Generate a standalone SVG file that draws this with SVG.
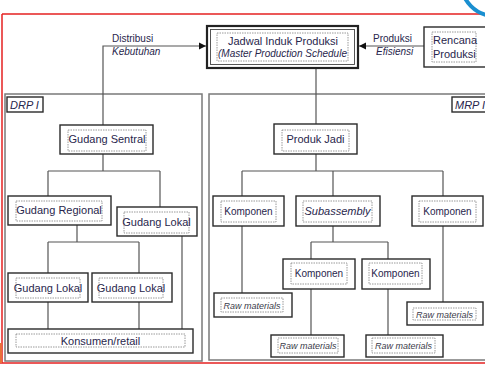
<svg xmlns="http://www.w3.org/2000/svg" width="485" height="365" viewBox="0 0 485 365">
<style>
.box{fill:#fff;stroke:#2a2a2a;stroke-width:1.4}
.inner{fill:none;stroke:#808080;stroke-width:0.8;stroke-dasharray:1.5 1}
.area{fill:#fff;stroke:#7a7a7a;stroke-width:1.5}
.conn{fill:none;stroke:#555;stroke-width:1.2}
.t{font-family:"Liberation Sans",Arial,sans-serif;font-size:11px;fill:#28264c}
.s{font-size:10px}
.r{font-size:9px;fill:#3a3a4a}
.it{font-style:italic}
.m{text-anchor:middle}
.red{fill:none;stroke:#e52222;stroke-width:1.5}
</style>
<defs>
<marker id="arr" markerWidth="8" markerHeight="8" refX="7" refY="4" orient="auto" markerUnits="userSpaceOnUse">
<path d="M0,0.5 L7,4 L0,7.5 Z" fill="#111"/>
</marker>
</defs>
<rect width="485" height="365" fill="#fff"/>
<!-- decorative frame -->
<path class="red" d="M2,14 H485 M2,14 V363 M0,363 H485"/>
<rect x="0" y="343" width="2" height="20" fill="#e8703a"/>
<circle cx="495" cy="-18" r="34" fill="none" stroke="#1a8fd0" stroke-width="4"/>
<!-- areas -->
<g id="drp">
<rect class="area" x="5" y="94" width="197" height="267"/>
<rect class="box" x="7" y="97" width="36" height="15"/>
<text class="t it" x="10" y="108.5">DRP I</text>
</g>
<g id="mrp">
<rect class="area" x="209" y="94" width="290" height="266"/>
<rect class="box" x="452" y="97" width="40" height="15"/>
<text class="t it" x="455" y="108.5">MRP I</text>
</g>
<!-- connectors -->
<g id="connectors">
<path class="conn" d="M424,46 H359" marker-end="url(#arr)"/>
<path class="conn" d="M103,125 V46 H206" marker-end="url(#arr)"/>
<path class="conn" d="M316,68 V124"/>
<path class="conn" d="M103,154 V171 M48,171 H160 M48,171 V196 M160,171 V207"/>
<path class="conn" d="M77,225 V242 M48,242 H139 M48,242 V273 M139,242 V273"/>
<path class="conn" d="M48,302 V329 M139,302 V329 M182,236 V329"/>
<path class="conn" d="M316,154 V171 M242,171 H443 M242,171 V196 M333,171 V196 M443,171 V196"/>
<path class="conn" d="M242,226 V293 M333,226 V242 M311,242 H388 M311,242 V259 M388,242 V259"/>
<path class="conn" d="M311,289 V335 M388,289 V335 M443,226 V302"/>
<text class="t s" x="112" y="42">Distribusi</text>
<text class="t s it" x="112" y="55">Kebutuhan</text>
<text class="t s" x="373" y="42">Produksi</text>
<text class="t s it" x="376" y="55">Efisiensi</text>
</g>
<!-- nodes -->
<g id="jadwal">
<rect x="207" y="26" width="151" height="42" fill="#fff" stroke="#222" stroke-width="2.2"/>
<rect x="210.5" y="29.5" width="144" height="35" fill="none" stroke="#444" stroke-width="0.9"/>
<rect class="inner" x="217" y="33" width="131" height="28"/>
<text class="t m" x="283" y="45">Jadwal Induk Produksi</text>
<text class="t s it" x="218" y="57">(Master Production Schedule</text>
</g>
<g id="rencana">
<rect class="box" x="424" y="27" width="70" height="40"/>
<rect class="inner" x="432" y="32" width="44" height="30"/>
<text class="t" x="433" y="44">Rencana</text>
<text class="t" x="433" y="58">Produksi</text>
</g>
<g id="gudang-sentral">
<rect class="box" x="60" y="125" width="93" height="29"/>
<rect class="inner" x="68" y="130" width="78" height="21"/>
<text class="t m" x="107" y="143">Gudang Sentral</text>
</g>
<g id="gudang-regional">
<rect class="box" x="8" y="196" width="103" height="29"/>
<rect class="inner" x="16" y="201" width="86" height="20"/>
<text class="t m" x="59" y="214">Gudang Regional</text>
</g>
<g id="gudang-lokal-1">
<rect class="box" x="117" y="207" width="80" height="29"/>
<rect class="inner" x="124" y="212" width="65" height="21"/>
<text class="t m" x="156.5" y="225.5">Gudang Lokal</text>
</g>
<g id="gudang-lokal-2">
<rect class="box" x="8" y="273" width="80" height="29"/>
<rect class="inner" x="16" y="278" width="64" height="20"/>
<text class="t m" x="48" y="291.5">Gudang Lokal</text>
</g>
<g id="gudang-lokal-3">
<rect class="box" x="92" y="273" width="80" height="29"/>
<rect class="inner" x="99" y="278" width="64" height="20"/>
<text class="t m" x="131" y="291.5">Gudang Lokal</text>
</g>
<g id="konsumen">
<rect class="box" x="8" y="329" width="185" height="24"/>
<rect class="inner" x="16" y="334" width="169" height="13"/>
<text class="t m" x="100.5" y="345">Konsumen/retail</text>
</g>
<g id="produk-jadi">
<rect class="box" x="274" y="124" width="83" height="30"/>
<rect class="inner" x="282" y="130" width="67" height="21"/>
<text class="t m" x="315.5" y="143">Produk Jadi</text>
</g>
<g id="komponen-1">
<rect class="box" x="213" y="196" width="71" height="30"/>
<rect class="inner" x="221" y="201" width="55" height="21"/>
<text class="t s m" x="248.5" y="214.5">Komponen</text>
</g>
<g id="subassembly">
<rect class="box" x="296" y="196" width="84" height="30"/>
<rect class="inner" x="303" y="201" width="69" height="21"/>
<text class="t it m" x="337.5" y="215">Subassembly</text>
</g>
<g id="komponen-2">
<rect class="box" x="412" y="196" width="71" height="30"/>
<rect class="inner" x="419" y="201" width="57" height="21"/>
<text class="t s m" x="447.5" y="214.5">Komponen</text>
</g>
<g id="komponen-3">
<rect class="box" x="283" y="259" width="72" height="30"/>
<rect class="inner" x="291" y="263" width="56" height="21"/>
<text class="t s m" x="319" y="276.5">Komponen</text>
</g>
<g id="komponen-4">
<rect class="box" x="362" y="259" width="68" height="30"/>
<rect class="inner" x="369" y="263" width="53" height="21"/>
<text class="t s m" x="395.5" y="276.5">Komponen</text>
</g>
<g id="raw-1">
<rect class="box" x="214" y="293" width="78" height="24"/>
<rect class="inner" x="221" y="298" width="62" height="14"/>
<text class="t r it m" x="252" y="308.5">Raw materials</text>
</g>
<g id="raw-2">
<rect class="box" x="271" y="335" width="73" height="22"/>
<rect class="inner" x="278" y="338" width="60" height="15"/>
<text class="t r it m" x="308" y="349">Raw materials</text>
</g>
<g id="raw-3">
<rect class="box" x="366" y="335" width="77" height="22"/>
<rect class="inner" x="372" y="338" width="63" height="15"/>
<text class="t r it m" x="403.5" y="349">Raw materials</text>
</g>
<g id="raw-4">
<rect class="box" x="407" y="302" width="76" height="23"/>
<rect class="inner" x="413" y="308" width="63" height="12"/>
<text class="t r it m" x="444.5" y="317.5">Raw materials</text>
</g>
</svg>
